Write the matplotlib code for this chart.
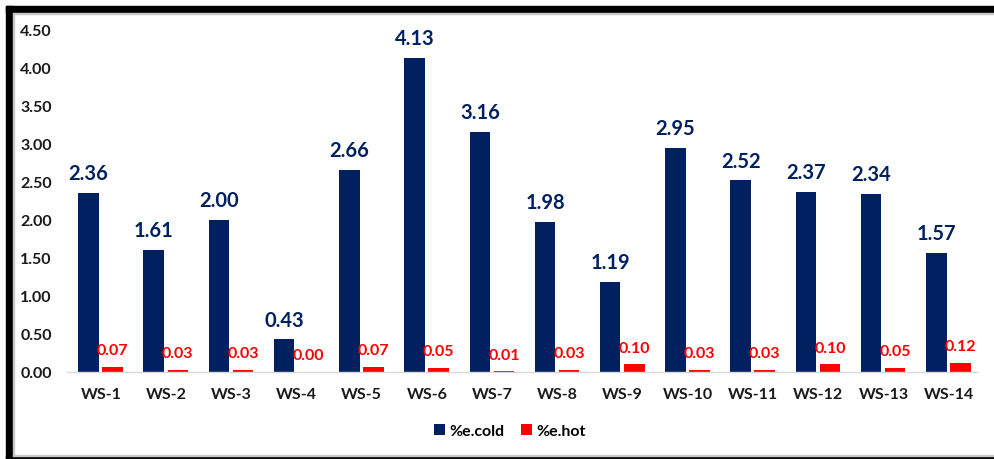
import numpy as np
import matplotlib
matplotlib.use('Agg')
import matplotlib.pyplot as plt
from matplotlib.patches import Rectangle

categorias = ['WS-1', 'WS-2', 'WS-3', 'WS-4', 'WS-5', 'WS-6', 'WS-7',
              'WS-8', 'WS-9', 'WS-10', 'WS-11', 'WS-12', 'WS-13', 'WS-14']
e_cold = [2.36, 1.61, 2.00, 0.43, 2.66, 4.13, 3.16, 1.98, 1.19, 2.95, 2.52, 2.37, 2.34, 1.57]
e_hot = [0.07, 0.03, 0.03, 0.00, 0.07, 0.05, 0.01, 0.03, 0.10, 0.03, 0.03, 0.10, 0.05, 0.12]
yticks = [0, 0.5, 1.0, 1.5, 2.0, 2.5, 3.0, 3.5, 4.0, 4.5]

azul = '#002060'
rojo = '#FF0000'

plt.rcParams['font.family'] = ['Lato', 'DejaVu Sans']
plt.rcParams['font.weight'] = 'bold'

W, H = 995, 460
fig = plt.figure(figsize=(W / 100, H / 100), dpi=100)
ax = fig.add_axes([67 / W, 87 / H, (978 - 67) / W, (429 - 87) / H])

x = np.arange(len(categorias))
ancho = 0.315
b1 = ax.bar(x - 0.19, e_cold, ancho, color=azul, label='%e.cold')
b2 = ax.bar(x + 0.18, e_hot, ancho, color=rojo, label='%e.hot')

for rect, v in zip(b1, e_cold):
    ax.annotate(f'{v:.2f}', (rect.get_x() + rect.get_width() / 2, v),
                xytext=(0, 7), textcoords='offset points', ha='center', va='bottom',
                color=azul, fontsize=14.5, fontweight='bold')
for rect, v in zip(b2, e_hot):
    ax.annotate(f'{v:.2f}', (rect.get_x() + rect.get_width() / 2, v),
                xytext=(0, 7), textcoords='offset points', ha='center', va='bottom',
                color=rojo, fontsize=11.5, fontweight='bold')

ax.set_xlim(-0.52, 13.45)
ax.set_ylim(0, 4.5)
ax.set_yticks(yticks)
ax.set_yticklabels([f'{t:.2f}' for t in yticks])
ax.set_xticks(x)
ax.set_xticklabels(categorias)
ax.tick_params(axis='y', length=0, pad=11, labelsize=11.5, labelcolor='#1a1a1a')
ax.tick_params(axis='x', length=0, pad=11, labelsize=11.5, labelcolor='#1a1a1a')
for s in ['top', 'right', 'left']:
    ax.spines[s].set_visible(False)
ax.spines['bottom'].set_color('#d9d9d9')
ax.spines['bottom'].set_linewidth(1)

ax.legend(loc='center', bbox_to_anchor=(510 / W, (H - 432) / H), bbox_transform=fig.transFigure,
          ncol=2, frameon=False, fontsize=11.5, handlelength=0.7, handleheight=0.7,
          handletextpad=0.3, columnspacing=1.0)

# marco negro con sombra gris
def rect_px(x0, y0, x1, y1, color):
    fig.patches.append(Rectangle((x0 / W, (H - y1) / H), (x1 - x0) / W, (y1 - y0) / H,
                                 transform=fig.transFigure, color=color, zorder=10))

rect_px(6, 7, W, 14, 'black')
rect_px(6, 7, 13, H, 'black')
rect_px(6, 457, W, H, 'black')
rect_px(13, 14, W, 15, '#c8c8c8')
rect_px(13, 14, 14, 457, '#c8c8c8')
rect_px(13, 456, W, 457, '#c8c8c8')

fig.savefig('out.png', dpi=100)
